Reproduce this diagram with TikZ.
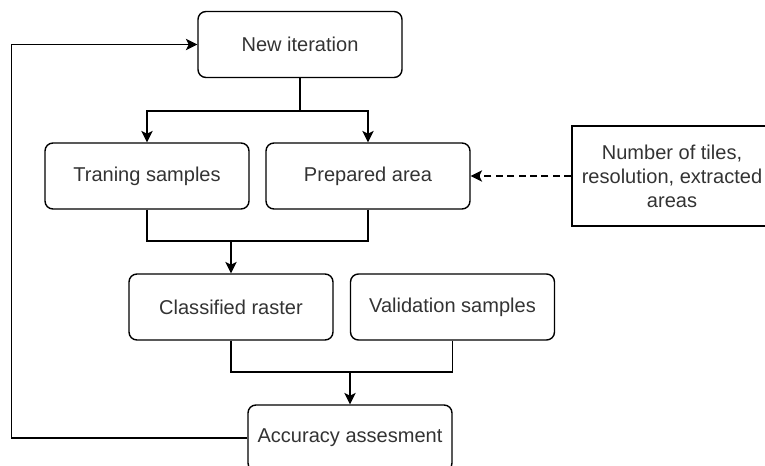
\documentclass[tikz,border=0pt]{standalone}
\usepackage{fontspec}
\setmainfont{Liberation Sans}
\usepackage{xcolor}
\usetikzlibrary{arrows.meta,positioning}
\definecolor{txt}{HTML}{333333}

\begin{document}
\begin{tikzpicture}[x=0.02cm,y=-0.02cm,
  box/.style={draw,line width=0.8pt,rounded corners=4.5pt,minimum width=4.08cm,minimum height=1.32cm,
    inner sep=2pt,text=txt,font=\fontsize{11.4}{13.6}\selectfont},
  sqbox/.style={box,rounded corners=0pt,minimum width=4cm,minimum height=2cm,align=center},
  ln/.style={line width=0.8pt},
  arr/.style={ln,-{Stealth[length=6.5pt,width=6.5pt,inset=1.6pt]}},
  darr/.style={arr,dash pattern=on 4pt off 2.5pt}]
\useasboundingbox (0,0) rectangle (765,466);
\clip (0,0) rectangle (765,466);
% nodes
\node[box]   (new)   at (300,44.5) {New iteration};
\node[box]   (train) at (147,176)  {Traning samples};
\node[box]   (prep)  at (368,176)  {Prepared area};
\node[sqbox] (param) at (672,176)  {Number of tiles,\\resolution, extracted\\areas};
\node[box]   (class) at (231,307)  {Classified raster};
\node[box]   (valid) at (452.5,307) {Validation samples};
\node[box]   (acc)   at (350,438)  {Accuracy assesment};
% junctions
\coordinate (split) at (300,111);
\coordinate (join1) at (231,241);
\coordinate (join2) at (350,372);
% connectors
\draw[ln]  (new.south) -- (split);
\draw[arr] (split) -| (train.north);
\draw[arr] (split) -| (prep.north);
\draw[ln]  (train.south) |- (join1);
\draw[ln]  (prep.south) |- (join1);
\draw[arr] (join1) -- (class.north);
\draw[ln]  (class.south) |- (join2);
\draw[ln]  (valid.south) |- (join2);
\draw[arr] (join2) -- (acc.north);
\draw[darr] (param.west) -- (prep.east);
% feedback loop
\draw[arr] (acc.west) -- ++(-236,0) |- (new.west);
\end{tikzpicture}
\end{document}
